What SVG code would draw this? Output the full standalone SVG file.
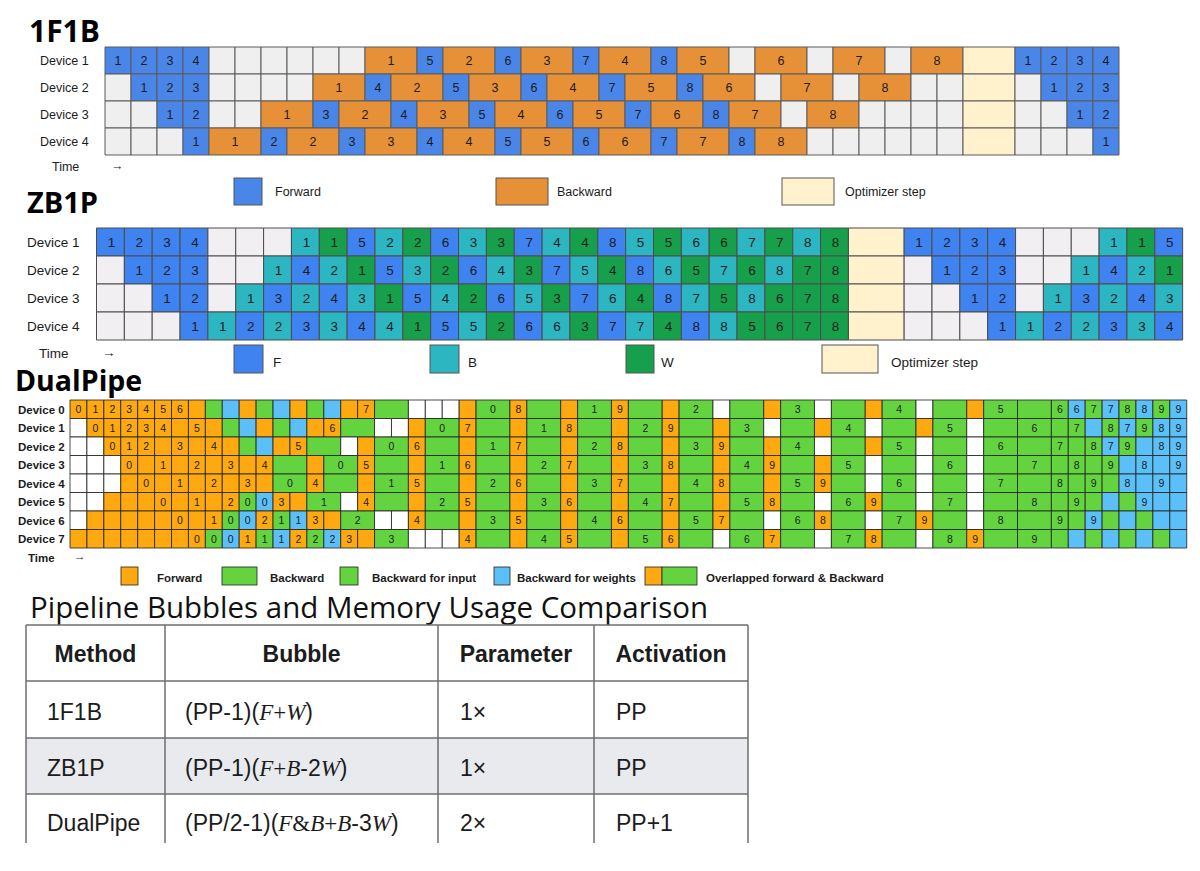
<svg xmlns="http://www.w3.org/2000/svg" width="1200" height="871" viewBox="0 0 1200 871">
<style>
text{font-family:"Liberation Sans",Arial,sans-serif;fill:#1c1c1c}
.s rect{vector-effect:non-scaling-stroke}
.k1 rect{stroke:#5b5b5b;stroke-width:1px}
.k2 rect{stroke:#4c4c4c;stroke-width:1px}
.k3 rect{stroke:#1e1e1e;stroke-width:0.8px}
.fb{fill:#4a86e8}.bo{fill:#e69138}.gy{fill:#efefef}.op{fill:#fff2cc}
.zf{fill:#3f83f1}.zc{fill:#2cb6c2}.zw{fill:#17a04c}.zg{fill:#f2eff2}
.o{fill:#fda90f}.g{fill:#63d43f}.b{fill:#5bc0f7}.w{fill:#ffffff}
.ttl{font-family:"Open Sans","Noto Sans",sans-serif;font-weight:700;fill:#000}
.l1{font-size:12.5px}
.n1{font-size:12.5px;text-anchor:middle}
.l2{font-size:13.5px}
.n2{font-size:13.5px;text-anchor:middle}
.l3{font-size:11.5px;font-weight:700}
.n3{font-size:10.5px;text-anchor:middle}
.tb{font-family:"Open Sans","Noto Sans",sans-serif;font-size:23px;fill:#111}
.tt{font-family:"Open Sans","Noto Sans",sans-serif;font-size:29px;fill:#111}
.th{font-weight:600;text-anchor:middle}
.mi{font-family:"Liberation Serif","Times New Roman",serif;font-style:italic}
.ms{font-family:"Liberation Serif","Times New Roman",serif}
.ln{stroke:#6e6e6e;stroke-width:1.5px;fill:none}
.lg rect{stroke:#555;stroke-width:1px}
.lg3 rect{stroke:#222;stroke-width:0.8px}
</style>
<rect width="1200" height="871" fill="#ffffff"/>

<!-- ===== 1F1B ===== -->
<g id="sec-1f1b">
<text class="ttl" x="29" y="41.5" font-size="30">1F1B</text>
<g id="f1b-labels" class="l1">
<text x="40" y="65">Device 1</text><text x="40" y="92">Device 2</text><text x="40" y="119">Device 3</text><text x="40" y="146">Device 4</text>
</g>
<g id="f1b-grid" class="s k1" transform="translate(105 47) scale(26 27)">
<g id="f1b-r0">
<rect class="fb" x="0" width="1" height="1"/><rect class="fb" x="1" width="1" height="1"/><rect class="fb" x="2" width="1" height="1"/><rect class="fb" x="3" width="1" height="1"/>
<rect class="gy" x="4" width="1" height="1"/><rect class="gy" x="5" width="1" height="1"/><rect class="gy" x="6" width="1" height="1"/><rect class="gy" x="7" width="1" height="1"/><rect class="gy" x="8" width="1" height="1"/><rect class="gy" x="9" width="1" height="1"/>
<rect class="bo" x="10" width="2" height="1"/><rect class="fb" x="12" width="1" height="1"/><rect class="bo" x="13" width="2" height="1"/><rect class="fb" x="15" width="1" height="1"/><rect class="bo" x="16" width="2" height="1"/><rect class="fb" x="18" width="1" height="1"/><rect class="bo" x="19" width="2" height="1"/><rect class="fb" x="21" width="1" height="1"/><rect class="bo" x="22" width="2" height="1"/>
<rect class="gy" x="24" width="1" height="1"/><rect class="bo" x="25" width="2" height="1"/><rect class="gy" x="27" width="1" height="1"/><rect class="bo" x="28" width="2" height="1"/><rect class="gy" x="30" width="1" height="1"/><rect class="bo" x="31" width="2" height="1"/>
<rect class="op" x="33" width="2" height="1"/>
<rect class="fb" x="35" width="1" height="1"/><rect class="fb" x="36" width="1" height="1"/><rect class="fb" x="37" width="1" height="1"/><rect class="fb" x="38" width="1" height="1"/>
</g>
<g id="f1b-r1" transform="translate(0 1)">
<rect class="gy" x="0" width="1" height="1"/><rect class="fb" x="1" width="1" height="1"/><rect class="fb" x="2" width="1" height="1"/><rect class="fb" x="3" width="1" height="1"/>
<rect class="gy" x="4" width="1" height="1"/><rect class="gy" x="5" width="1" height="1"/><rect class="gy" x="6" width="1" height="1"/><rect class="gy" x="7" width="1" height="1"/>
<rect class="bo" x="8" width="2" height="1"/><rect class="fb" x="10" width="1" height="1"/><rect class="bo" x="11" width="2" height="1"/><rect class="fb" x="13" width="1" height="1"/><rect class="bo" x="14" width="2" height="1"/><rect class="fb" x="16" width="1" height="1"/><rect class="bo" x="17" width="2" height="1"/><rect class="fb" x="19" width="1" height="1"/><rect class="bo" x="20" width="2" height="1"/><rect class="fb" x="22" width="1" height="1"/><rect class="bo" x="23" width="2" height="1"/>
<rect class="gy" x="25" width="1" height="1"/><rect class="bo" x="26" width="2" height="1"/><rect class="gy" x="28" width="1" height="1"/><rect class="bo" x="29" width="2" height="1"/><rect class="gy" x="31" width="1" height="1"/><rect class="gy" x="32" width="1" height="1"/>
<rect class="op" x="33" width="2" height="1"/>
<rect class="gy" x="35" width="1" height="1"/><rect class="fb" x="36" width="1" height="1"/><rect class="fb" x="37" width="1" height="1"/><rect class="fb" x="38" width="1" height="1"/>
</g>
<g id="f1b-r2" transform="translate(0 2)">
<rect class="gy" x="0" width="1" height="1"/><rect class="gy" x="1" width="1" height="1"/><rect class="fb" x="2" width="1" height="1"/><rect class="fb" x="3" width="1" height="1"/>
<rect class="gy" x="4" width="1" height="1"/><rect class="gy" x="5" width="1" height="1"/>
<rect class="bo" x="6" width="2" height="1"/><rect class="fb" x="8" width="1" height="1"/><rect class="bo" x="9" width="2" height="1"/><rect class="fb" x="11" width="1" height="1"/><rect class="bo" x="12" width="2" height="1"/><rect class="fb" x="14" width="1" height="1"/><rect class="bo" x="15" width="2" height="1"/><rect class="fb" x="17" width="1" height="1"/><rect class="bo" x="18" width="2" height="1"/><rect class="fb" x="20" width="1" height="1"/><rect class="bo" x="21" width="2" height="1"/><rect class="fb" x="23" width="1" height="1"/><rect class="bo" x="24" width="2" height="1"/>
<rect class="gy" x="26" width="1" height="1"/><rect class="bo" x="27" width="2" height="1"/>
<rect class="gy" x="29" width="1" height="1"/><rect class="gy" x="30" width="1" height="1"/><rect class="gy" x="31" width="1" height="1"/><rect class="gy" x="32" width="1" height="1"/>
<rect class="op" x="33" width="2" height="1"/>
<rect class="gy" x="35" width="1" height="1"/><rect class="gy" x="36" width="1" height="1"/><rect class="fb" x="37" width="1" height="1"/><rect class="fb" x="38" width="1" height="1"/>
</g>
<g id="f1b-r3" transform="translate(0 3)">
<rect class="gy" x="0" width="1" height="1"/><rect class="gy" x="1" width="1" height="1"/><rect class="gy" x="2" width="1" height="1"/><rect class="fb" x="3" width="1" height="1"/>
<rect class="bo" x="4" width="2" height="1"/><rect class="fb" x="6" width="1" height="1"/><rect class="bo" x="7" width="2" height="1"/><rect class="fb" x="9" width="1" height="1"/><rect class="bo" x="10" width="2" height="1"/><rect class="fb" x="12" width="1" height="1"/><rect class="bo" x="13" width="2" height="1"/><rect class="fb" x="15" width="1" height="1"/><rect class="bo" x="16" width="2" height="1"/><rect class="fb" x="18" width="1" height="1"/><rect class="bo" x="19" width="2" height="1"/><rect class="fb" x="21" width="1" height="1"/><rect class="bo" x="22" width="2" height="1"/><rect class="fb" x="24" width="1" height="1"/><rect class="bo" x="25" width="2" height="1"/>
<rect class="gy" x="27" width="1" height="1"/><rect class="gy" x="28" width="1" height="1"/><rect class="gy" x="29" width="1" height="1"/><rect class="gy" x="30" width="1" height="1"/><rect class="gy" x="31" width="1" height="1"/><rect class="gy" x="32" width="1" height="1"/>
<rect class="op" x="33" width="2" height="1"/>
<rect class="gy" x="35" width="1" height="1"/><rect class="gy" x="36" width="1" height="1"/><rect class="gy" x="37" width="1" height="1"/><rect class="fb" x="38" width="1" height="1"/>
</g>
</g>
<g id="f1b-nums" class="n1">
<text x="118" y="65">1</text><text x="144" y="65">2</text><text x="170" y="65">3</text><text x="196" y="65">4</text><text x="391" y="65">1</text><text x="430" y="65">5</text><text x="469" y="65">2</text><text x="508" y="65">6</text><text x="547" y="65">3</text><text x="586" y="65">7</text><text x="625" y="65">4</text><text x="664" y="65">8</text><text x="703" y="65">5</text><text x="781" y="65">6</text><text x="859" y="65">7</text><text x="937" y="65">8</text><text x="1028" y="65">1</text><text x="1054" y="65">2</text><text x="1080" y="65">3</text><text x="1106" y="65">4</text>
<text x="144" y="92">1</text><text x="170" y="92">2</text><text x="196" y="92">3</text><text x="339" y="92">1</text><text x="378" y="92">4</text><text x="417" y="92">2</text><text x="456" y="92">5</text><text x="495" y="92">3</text><text x="534" y="92">6</text><text x="573" y="92">4</text><text x="612" y="92">7</text><text x="651" y="92">5</text><text x="690" y="92">8</text><text x="729" y="92">6</text><text x="807" y="92">7</text><text x="885" y="92">8</text><text x="1054" y="92">1</text><text x="1080" y="92">2</text><text x="1106" y="92">3</text>
<text x="170" y="119">1</text><text x="196" y="119">2</text><text x="287" y="119">1</text><text x="326" y="119">3</text><text x="365" y="119">2</text><text x="404" y="119">4</text><text x="443" y="119">3</text><text x="482" y="119">5</text><text x="521" y="119">4</text><text x="560" y="119">6</text><text x="599" y="119">5</text><text x="638" y="119">7</text><text x="677" y="119">6</text><text x="716" y="119">8</text><text x="755" y="119">7</text><text x="833" y="119">8</text><text x="1080" y="119">1</text><text x="1106" y="119">2</text>
<text x="196" y="146">1</text><text x="235" y="146">1</text><text x="274" y="146">2</text><text x="313" y="146">2</text><text x="352" y="146">3</text><text x="391" y="146">3</text><text x="430" y="146">4</text><text x="469" y="146">4</text><text x="508" y="146">5</text><text x="547" y="146">5</text><text x="586" y="146">6</text><text x="625" y="146">6</text><text x="664" y="146">7</text><text x="703" y="146">7</text><text x="742" y="146">8</text><text x="781" y="146">8</text><text x="1106" y="146">1</text>
</g>
<g id="f1b-legend" class="lg">
<text class="l1" x="52" y="170.5">Time</text>
<text class="l1" x="111" y="170" fill="#555">→</text>
<rect class="fb" x="234" y="178" width="28" height="27"/><text class="l1" x="275" y="196">Forward</text>
<rect class="bo" x="496" y="178" width="52" height="27"/><text class="l1" x="557" y="196">Backward</text>
<rect class="op" x="782" y="178" width="52" height="27"/><text class="l1" x="845" y="196">Optimizer step</text>
</g>
</g>

<!-- ===== ZB1P ===== -->
<g id="sec-zb1p">
<text class="ttl" x="27" y="213" font-size="29">ZB1P</text>
<g id="zb-labels" class="l2">
<text x="27" y="247">Device 1</text><text x="27" y="275">Device 2</text><text x="27" y="303">Device 3</text><text x="27" y="331">Device 4</text>
</g>
<g id="zb-grid" class="s k2" transform="translate(96.5 228) scale(27.85 28)">
<g id="zb-r0">
<rect class="zf" x="0" width="1" height="1"/><rect class="zf" x="1" width="1" height="1"/><rect class="zf" x="2" width="1" height="1"/><rect class="zf" x="3" width="1" height="1"/>
<rect class="zg" x="4" width="1" height="1"/><rect class="zg" x="5" width="1" height="1"/><rect class="zg" x="6" width="1" height="1"/>
<rect class="zc" x="7" width="1" height="1"/><rect class="zw" x="8" width="1" height="1"/><rect class="zf" x="9" width="1" height="1"/><rect class="zc" x="10" width="1" height="1"/><rect class="zw" x="11" width="1" height="1"/><rect class="zf" x="12" width="1" height="1"/><rect class="zc" x="13" width="1" height="1"/><rect class="zw" x="14" width="1" height="1"/><rect class="zf" x="15" width="1" height="1"/><rect class="zc" x="16" width="1" height="1"/><rect class="zw" x="17" width="1" height="1"/><rect class="zf" x="18" width="1" height="1"/><rect class="zc" x="19" width="1" height="1"/><rect class="zw" x="20" width="1" height="1"/><rect class="zc" x="21" width="1" height="1"/><rect class="zw" x="22" width="1" height="1"/><rect class="zc" x="23" width="1" height="1"/><rect class="zw" x="24" width="1" height="1"/><rect class="zc" x="25" width="1" height="1"/><rect class="zw" x="26" width="1" height="1"/>
<rect class="op" x="27" width="2" height="1"/>
<rect class="zf" x="29" width="1" height="1"/><rect class="zf" x="30" width="1" height="1"/><rect class="zf" x="31" width="1" height="1"/><rect class="zf" x="32" width="1" height="1"/>
<rect class="zg" x="33" width="1" height="1"/><rect class="zg" x="34" width="1" height="1"/><rect class="zg" x="35" width="1" height="1"/>
<rect class="zc" x="36" width="1" height="1"/><rect class="zw" x="37" width="1" height="1"/><rect class="zf" x="38" width="1" height="1"/>
</g>
<g id="zb-r1" transform="translate(0 1)">
<rect class="zg" x="0" width="1" height="1"/><rect class="zf" x="1" width="1" height="1"/><rect class="zf" x="2" width="1" height="1"/><rect class="zf" x="3" width="1" height="1"/>
<rect class="zg" x="4" width="1" height="1"/><rect class="zg" x="5" width="1" height="1"/>
<rect class="zc" x="6" width="1" height="1"/><rect class="zf" x="7" width="1" height="1"/><rect class="zc" x="8" width="1" height="1"/><rect class="zw" x="9" width="1" height="1"/><rect class="zf" x="10" width="1" height="1"/><rect class="zc" x="11" width="1" height="1"/><rect class="zw" x="12" width="1" height="1"/><rect class="zf" x="13" width="1" height="1"/><rect class="zc" x="14" width="1" height="1"/><rect class="zw" x="15" width="1" height="1"/><rect class="zf" x="16" width="1" height="1"/><rect class="zc" x="17" width="1" height="1"/><rect class="zw" x="18" width="1" height="1"/><rect class="zf" x="19" width="1" height="1"/><rect class="zc" x="20" width="1" height="1"/><rect class="zw" x="21" width="1" height="1"/><rect class="zc" x="22" width="1" height="1"/><rect class="zw" x="23" width="1" height="1"/><rect class="zc" x="24" width="1" height="1"/><rect class="zw" x="25" width="1" height="1"/><rect class="zw" x="26" width="1" height="1"/>
<rect class="op" x="27" width="2" height="1"/>
<rect class="zg" x="29" width="1" height="1"/><rect class="zf" x="30" width="1" height="1"/><rect class="zf" x="31" width="1" height="1"/><rect class="zf" x="32" width="1" height="1"/>
<rect class="zg" x="33" width="1" height="1"/><rect class="zg" x="34" width="1" height="1"/>
<rect class="zc" x="35" width="1" height="1"/><rect class="zf" x="36" width="1" height="1"/><rect class="zc" x="37" width="1" height="1"/><rect class="zw" x="38" width="1" height="1"/>
</g>
<g id="zb-r2" transform="translate(0 2)">
<rect class="zg" x="0" width="1" height="1"/><rect class="zg" x="1" width="1" height="1"/><rect class="zf" x="2" width="1" height="1"/><rect class="zf" x="3" width="1" height="1"/>
<rect class="zg" x="4" width="1" height="1"/>
<rect class="zc" x="5" width="1" height="1"/><rect class="zf" x="6" width="1" height="1"/><rect class="zc" x="7" width="1" height="1"/><rect class="zf" x="8" width="1" height="1"/><rect class="zc" x="9" width="1" height="1"/><rect class="zw" x="10" width="1" height="1"/><rect class="zf" x="11" width="1" height="1"/><rect class="zc" x="12" width="1" height="1"/><rect class="zw" x="13" width="1" height="1"/><rect class="zf" x="14" width="1" height="1"/><rect class="zc" x="15" width="1" height="1"/><rect class="zw" x="16" width="1" height="1"/><rect class="zf" x="17" width="1" height="1"/><rect class="zc" x="18" width="1" height="1"/><rect class="zw" x="19" width="1" height="1"/><rect class="zf" x="20" width="1" height="1"/><rect class="zc" x="21" width="1" height="1"/><rect class="zw" x="22" width="1" height="1"/><rect class="zc" x="23" width="1" height="1"/><rect class="zw" x="24" width="1" height="1"/><rect class="zw" x="25" width="1" height="1"/><rect class="zw" x="26" width="1" height="1"/>
<rect class="op" x="27" width="2" height="1"/>
<rect class="zg" x="29" width="1" height="1"/><rect class="zg" x="30" width="1" height="1"/><rect class="zf" x="31" width="1" height="1"/><rect class="zf" x="32" width="1" height="1"/>
<rect class="zg" x="33" width="1" height="1"/>
<rect class="zc" x="34" width="1" height="1"/><rect class="zf" x="35" width="1" height="1"/><rect class="zc" x="36" width="1" height="1"/><rect class="zf" x="37" width="1" height="1"/><rect class="zc" x="38" width="1" height="1"/>
</g>
<g id="zb-r3" transform="translate(0 3)">
<rect class="zg" x="0" width="1" height="1"/><rect class="zg" x="1" width="1" height="1"/><rect class="zg" x="2" width="1" height="1"/>
<rect class="zf" x="3" width="1" height="1"/><rect class="zc" x="4" width="1" height="1"/><rect class="zf" x="5" width="1" height="1"/><rect class="zc" x="6" width="1" height="1"/><rect class="zf" x="7" width="1" height="1"/><rect class="zc" x="8" width="1" height="1"/><rect class="zf" x="9" width="1" height="1"/><rect class="zc" x="10" width="1" height="1"/><rect class="zw" x="11" width="1" height="1"/><rect class="zf" x="12" width="1" height="1"/><rect class="zc" x="13" width="1" height="1"/><rect class="zw" x="14" width="1" height="1"/><rect class="zf" x="15" width="1" height="1"/><rect class="zc" x="16" width="1" height="1"/><rect class="zw" x="17" width="1" height="1"/><rect class="zf" x="18" width="1" height="1"/><rect class="zc" x="19" width="1" height="1"/><rect class="zw" x="20" width="1" height="1"/><rect class="zf" x="21" width="1" height="1"/><rect class="zc" x="22" width="1" height="1"/><rect class="zw" x="23" width="1" height="1"/><rect class="zw" x="24" width="1" height="1"/><rect class="zw" x="25" width="1" height="1"/><rect class="zw" x="26" width="1" height="1"/>
<rect class="op" x="27" width="2" height="1"/>
<rect class="zg" x="29" width="1" height="1"/><rect class="zg" x="30" width="1" height="1"/><rect class="zg" x="31" width="1" height="1"/>
<rect class="zf" x="32" width="1" height="1"/><rect class="zc" x="33" width="1" height="1"/><rect class="zf" x="34" width="1" height="1"/><rect class="zc" x="35" width="1" height="1"/><rect class="zf" x="36" width="1" height="1"/><rect class="zc" x="37" width="1" height="1"/><rect class="zf" x="38" width="1" height="1"/>
</g>
</g>
<g id="zb-nums" class="n2">
<text x="111.5" y="247">1</text><text x="139.3" y="247">2</text><text x="167.1" y="247">3</text><text x="195" y="247">4</text><text x="306.4" y="247">1</text><text x="334.2" y="247">1</text><text x="362.1" y="247">5</text><text x="389.9" y="247">2</text><text x="417.8" y="247">2</text><text x="445.6" y="247">6</text><text x="473.5" y="247">3</text><text x="501.3" y="247">3</text><text x="529.2" y="247">7</text><text x="557" y="247">4</text><text x="584.9" y="247">4</text><text x="612.7" y="247">8</text><text x="640.6" y="247">5</text><text x="668.4" y="247">5</text><text x="696.3" y="247">6</text><text x="724.1" y="247">6</text><text x="752" y="247">7</text><text x="779.8" y="247">7</text><text x="807.7" y="247">8</text><text x="835.5" y="247">8</text><text x="919.1" y="247">1</text><text x="946.9" y="247">2</text><text x="974.8" y="247">3</text><text x="1002.6" y="247">4</text><text x="1114" y="247">1</text><text x="1141.9" y="247">1</text><text x="1169.7" y="247">5</text>
<text x="139.3" y="275">1</text><text x="167.1" y="275">2</text><text x="195" y="275">3</text><text x="278.5" y="275">1</text><text x="306.4" y="275">4</text><text x="334.2" y="275">2</text><text x="362.1" y="275">1</text><text x="389.9" y="275">5</text><text x="417.8" y="275">3</text><text x="445.6" y="275">2</text><text x="473.5" y="275">6</text><text x="501.3" y="275">4</text><text x="529.2" y="275">3</text><text x="557" y="275">7</text><text x="584.9" y="275">5</text><text x="612.7" y="275">4</text><text x="640.6" y="275">8</text><text x="668.4" y="275">6</text><text x="696.3" y="275">5</text><text x="724.1" y="275">7</text><text x="752" y="275">6</text><text x="779.8" y="275">8</text><text x="807.7" y="275">7</text><text x="835.5" y="275">8</text><text x="946.9" y="275">1</text><text x="974.8" y="275">2</text><text x="1002.6" y="275">3</text><text x="1086.2" y="275">1</text><text x="1114" y="275">4</text><text x="1141.9" y="275">2</text><text x="1169.7" y="275">1</text>
<text x="167.1" y="303">1</text><text x="195" y="303">2</text><text x="250.7" y="303">1</text><text x="278.5" y="303">3</text><text x="306.4" y="303">2</text><text x="334.2" y="303">4</text><text x="362.1" y="303">3</text><text x="389.9" y="303">1</text><text x="417.8" y="303">5</text><text x="445.6" y="303">4</text><text x="473.5" y="303">2</text><text x="501.3" y="303">6</text><text x="529.2" y="303">5</text><text x="557" y="303">3</text><text x="584.9" y="303">7</text><text x="612.7" y="303">6</text><text x="640.6" y="303">4</text><text x="668.4" y="303">8</text><text x="696.3" y="303">7</text><text x="724.1" y="303">5</text><text x="752" y="303">8</text><text x="779.8" y="303">6</text><text x="807.7" y="303">7</text><text x="835.5" y="303">8</text><text x="974.8" y="303">1</text><text x="1002.6" y="303">2</text><text x="1058.3" y="303">1</text><text x="1086.2" y="303">3</text><text x="1114" y="303">2</text><text x="1141.9" y="303">4</text><text x="1169.7" y="303">3</text>
<text x="195" y="331">1</text><text x="222.8" y="331">1</text><text x="250.7" y="331">2</text><text x="278.5" y="331">2</text><text x="306.4" y="331">3</text><text x="334.2" y="331">3</text><text x="362.1" y="331">4</text><text x="389.9" y="331">4</text><text x="417.8" y="331">1</text><text x="445.6" y="331">5</text><text x="473.5" y="331">5</text><text x="501.3" y="331">2</text><text x="529.2" y="331">6</text><text x="557" y="331">6</text><text x="584.9" y="331">3</text><text x="612.7" y="331">7</text><text x="640.6" y="331">7</text><text x="668.4" y="331">4</text><text x="696.3" y="331">8</text><text x="724.1" y="331">8</text><text x="752" y="331">5</text><text x="779.8" y="331">6</text><text x="807.7" y="331">7</text><text x="835.5" y="331">8</text><text x="1002.6" y="331">1</text><text x="1030.5" y="331">1</text><text x="1058.3" y="331">2</text><text x="1086.2" y="331">2</text><text x="1114" y="331">3</text><text x="1141.9" y="331">3</text><text x="1169.7" y="331">4</text>
</g>
<g id="zb-legend" class="lg">
<text class="l2" x="39" y="357.5">Time</text>
<text class="l2" x="102" y="357" fill="#555">→</text>
<rect class="zf" x="234" y="345" width="29" height="28"/><text class="l2" x="273" y="367">F</text>
<rect class="zc" x="430" y="345" width="29" height="28"/><text class="l2" x="468" y="367">B</text>
<rect class="zw" x="626" y="345" width="28" height="28"/><text class="l2" x="661" y="367">W</text>
<rect class="op" x="822" y="345" width="56" height="28"/><text class="l2" x="891" y="367">Optimizer step</text>
</g>
</g>

<!-- ===== DualPipe ===== -->
<g id="sec-dualpipe">
<text class="ttl" x="15" y="391" font-size="28.5">DualPipe</text>
<g id="dp-labels" class="l3">
<text x="18" y="413.5">Device 0</text><text x="18" y="432">Device 1</text><text x="18" y="450.5">Device 2</text><text x="18" y="469">Device 3</text><text x="18" y="487.5">Device 4</text><text x="18" y="506">Device 5</text><text x="18" y="524.5">Device 6</text><text x="18" y="543">Device 7</text>
</g>
<g id="dp-grid" class="s k3" transform="translate(70 400) scale(16.92 18.5)">
<g id="dp-r0">
<rect class="o" x="0" width="1" height="1"/><rect class="o" x="1" width="1" height="1"/><rect class="o" x="2" width="1" height="1"/><rect class="o" x="3" width="1" height="1"/><rect class="o" x="4" width="1" height="1"/><rect class="o" x="5" width="1" height="1"/><rect class="o" x="6" width="1" height="1"/><rect class="o" x="7" width="1" height="1"/>
<rect class="g" x="8" width="1" height="1"/><rect class="b" x="9" width="1" height="1"/><rect class="o" x="10" width="1" height="1"/><rect class="g" x="11" width="1" height="1"/><rect class="b" x="12" width="1" height="1"/><rect class="o" x="13" width="1" height="1"/><rect class="g" x="14" width="1" height="1"/><rect class="b" x="15" width="1" height="1"/><rect class="o" x="16" width="1" height="1"/><rect class="o" x="17" width="1" height="1"/>
<rect class="g" x="18" width="2" height="1"/><rect class="w" x="20" width="1" height="1"/><rect class="w" x="21" width="1" height="1"/><rect class="w" x="22" width="1" height="1"/>
<rect class="o" x="23" width="1" height="1"/><rect class="g" x="24" width="2" height="1"/><rect class="o" x="26" width="1" height="1"/><rect class="g" x="27" width="2" height="1"/><rect class="o" x="29" width="1" height="1"/><rect class="g" x="30" width="2" height="1"/><rect class="o" x="32" width="1" height="1"/><rect class="g" x="33" width="2" height="1"/><rect class="o" x="35" width="1" height="1"/><rect class="g" x="36" width="2" height="1"/>
<rect class="w" x="38" width="1" height="1"/><rect class="g" x="39" width="2" height="1"/><rect class="o" x="41" width="1" height="1"/><rect class="g" x="42" width="2" height="1"/><rect class="w" x="44" width="1" height="1"/><rect class="g" x="45" width="2" height="1"/><rect class="o" x="47" width="1" height="1"/><rect class="g" x="48" width="2" height="1"/><rect class="w" x="50" width="1" height="1"/><rect class="g" x="51" width="2" height="1"/><rect class="o" x="53" width="1" height="1"/><rect class="g" x="54" width="2" height="1"/><rect class="g" x="56" width="2" height="1"/>
<rect class="g" x="58" width="1" height="1"/><rect class="b" x="59" width="1" height="1"/><rect class="g" x="60" width="1" height="1"/><rect class="b" x="61" width="1" height="1"/><rect class="g" x="62" width="1" height="1"/><rect class="b" x="63" width="1" height="1"/><rect class="g" x="64" width="1" height="1"/><rect class="b" x="65" width="1" height="1"/>
</g>
<g id="dp-r1" transform="translate(0 1)">
<rect class="w" x="0" width="1" height="1"/><rect class="o" x="1" width="1" height="1"/><rect class="o" x="2" width="1" height="1"/><rect class="o" x="3" width="1" height="1"/><rect class="o" x="4" width="1" height="1"/><rect class="o" x="5" width="1" height="1"/><rect class="o" x="6" width="1" height="1"/><rect class="o" x="7" width="1" height="1"/><rect class="o" x="8" width="1" height="1"/>
<rect class="g" x="9" width="1" height="1"/><rect class="b" x="10" width="1" height="1"/><rect class="o" x="11" width="1" height="1"/><rect class="g" x="12" width="1" height="1"/><rect class="b" x="13" width="1" height="1"/><rect class="o" x="14" width="1" height="1"/><rect class="o" x="15" width="1" height="1"/>
<rect class="g" x="16" width="2" height="1"/><rect class="w" x="18" width="1" height="1"/><rect class="w" x="19" width="1" height="1"/>
<rect class="o" x="20" width="1" height="1"/><rect class="g" x="21" width="2" height="1"/><rect class="o" x="23" width="1" height="1"/><rect class="g" x="24" width="2" height="1"/><rect class="o" x="26" width="1" height="1"/><rect class="g" x="27" width="2" height="1"/><rect class="o" x="29" width="1" height="1"/><rect class="g" x="30" width="2" height="1"/><rect class="o" x="32" width="1" height="1"/><rect class="g" x="33" width="2" height="1"/><rect class="o" x="35" width="1" height="1"/><rect class="g" x="36" width="2" height="1"/><rect class="o" x="38" width="1" height="1"/><rect class="g" x="39" width="2" height="1"/>
<rect class="w" x="41" width="1" height="1"/><rect class="g" x="42" width="2" height="1"/><rect class="o" x="44" width="1" height="1"/><rect class="g" x="45" width="2" height="1"/><rect class="w" x="47" width="1" height="1"/><rect class="g" x="48" width="2" height="1"/><rect class="o" x="50" width="1" height="1"/><rect class="g" x="51" width="2" height="1"/><rect class="w" x="53" width="1" height="1"/><rect class="g" x="54" width="2" height="1"/><rect class="g" x="56" width="2" height="1"/>
<rect class="g" x="58" width="1" height="1"/><rect class="g" x="59" width="1" height="1"/><rect class="b" x="60" width="1" height="1"/><rect class="g" x="61" width="1" height="1"/><rect class="b" x="62" width="1" height="1"/><rect class="g" x="63" width="1" height="1"/><rect class="b" x="64" width="1" height="1"/><rect class="b" x="65" width="1" height="1"/>
</g>
<g id="dp-r2" transform="translate(0 2)">
<rect class="w" x="0" width="1" height="1"/><rect class="w" x="1" width="1" height="1"/><rect class="o" x="2" width="1" height="1"/><rect class="o" x="3" width="1" height="1"/><rect class="o" x="4" width="1" height="1"/><rect class="o" x="5" width="1" height="1"/><rect class="o" x="6" width="1" height="1"/><rect class="o" x="7" width="1" height="1"/><rect class="o" x="8" width="1" height="1"/><rect class="o" x="9" width="1" height="1"/>
<rect class="g" x="10" width="1" height="1"/><rect class="b" x="11" width="1" height="1"/><rect class="o" x="12" width="1" height="1"/><rect class="o" x="13" width="1" height="1"/><rect class="g" x="14" width="2" height="1"/><rect class="w" x="16" width="1" height="1"/><rect class="o" x="17" width="1" height="1"/>
<rect class="g" x="18" width="2" height="1"/><rect class="o" x="20" width="1" height="1"/><rect class="g" x="21" width="2" height="1"/><rect class="o" x="23" width="1" height="1"/><rect class="g" x="24" width="2" height="1"/><rect class="o" x="26" width="1" height="1"/><rect class="g" x="27" width="2" height="1"/><rect class="o" x="29" width="1" height="1"/><rect class="g" x="30" width="2" height="1"/><rect class="o" x="32" width="1" height="1"/><rect class="g" x="33" width="2" height="1"/><rect class="o" x="35" width="1" height="1"/><rect class="g" x="36" width="2" height="1"/><rect class="o" x="38" width="1" height="1"/><rect class="g" x="39" width="2" height="1"/><rect class="o" x="41" width="1" height="1"/><rect class="g" x="42" width="2" height="1"/>
<rect class="w" x="44" width="1" height="1"/><rect class="g" x="45" width="2" height="1"/><rect class="o" x="47" width="1" height="1"/><rect class="g" x="48" width="2" height="1"/><rect class="w" x="50" width="1" height="1"/><rect class="g" x="51" width="2" height="1"/><rect class="w" x="53" width="1" height="1"/><rect class="g" x="54" width="2" height="1"/><rect class="g" x="56" width="2" height="1"/>
<rect class="g" x="58" width="1" height="1"/><rect class="g" x="59" width="1" height="1"/><rect class="g" x="60" width="1" height="1"/><rect class="b" x="61" width="1" height="1"/><rect class="g" x="62" width="1" height="1"/><rect class="b" x="63" width="1" height="1"/><rect class="b" x="64" width="1" height="1"/><rect class="b" x="65" width="1" height="1"/>
</g>
<g id="dp-r3" transform="translate(0 3)">
<rect class="w" x="0" width="1" height="1"/><rect class="w" x="1" width="1" height="1"/><rect class="w" x="2" width="1" height="1"/><rect class="o" x="3" width="1" height="1"/><rect class="o" x="4" width="1" height="1"/><rect class="o" x="5" width="1" height="1"/><rect class="o" x="6" width="1" height="1"/><rect class="o" x="7" width="1" height="1"/><rect class="o" x="8" width="1" height="1"/><rect class="o" x="9" width="1" height="1"/><rect class="o" x="10" width="1" height="1"/><rect class="o" x="11" width="1" height="1"/>
<rect class="g" x="12" width="2" height="1"/><rect class="o" x="14" width="1" height="1"/><rect class="g" x="15" width="2" height="1"/><rect class="o" x="17" width="1" height="1"/><rect class="g" x="18" width="2" height="1"/><rect class="o" x="20" width="1" height="1"/><rect class="g" x="21" width="2" height="1"/><rect class="o" x="23" width="1" height="1"/><rect class="g" x="24" width="2" height="1"/><rect class="o" x="26" width="1" height="1"/><rect class="g" x="27" width="2" height="1"/><rect class="o" x="29" width="1" height="1"/><rect class="g" x="30" width="2" height="1"/><rect class="o" x="32" width="1" height="1"/><rect class="g" x="33" width="2" height="1"/><rect class="o" x="35" width="1" height="1"/><rect class="g" x="36" width="2" height="1"/><rect class="o" x="38" width="1" height="1"/><rect class="g" x="39" width="2" height="1"/><rect class="o" x="41" width="1" height="1"/><rect class="g" x="42" width="2" height="1"/><rect class="o" x="44" width="1" height="1"/><rect class="g" x="45" width="2" height="1"/>
<rect class="w" x="47" width="1" height="1"/><rect class="g" x="48" width="2" height="1"/><rect class="w" x="50" width="1" height="1"/><rect class="g" x="51" width="2" height="1"/><rect class="w" x="53" width="1" height="1"/><rect class="g" x="54" width="2" height="1"/><rect class="g" x="56" width="2" height="1"/>
<rect class="g" x="58" width="1" height="1"/><rect class="g" x="59" width="1" height="1"/><rect class="g" x="60" width="1" height="1"/><rect class="g" x="61" width="1" height="1"/><rect class="b" x="62" width="1" height="1"/><rect class="b" x="63" width="1" height="1"/><rect class="b" x="64" width="1" height="1"/><rect class="b" x="65" width="1" height="1"/>
</g>
<g id="dp-r4" transform="translate(0 4)">
<rect class="w" x="0" width="1" height="1"/><rect class="w" x="1" width="1" height="1"/><rect class="w" x="2" width="1" height="1"/><rect class="o" x="3" width="1" height="1"/><rect class="o" x="4" width="1" height="1"/><rect class="o" x="5" width="1" height="1"/><rect class="o" x="6" width="1" height="1"/><rect class="o" x="7" width="1" height="1"/><rect class="o" x="8" width="1" height="1"/><rect class="o" x="9" width="1" height="1"/><rect class="o" x="10" width="1" height="1"/><rect class="o" x="11" width="1" height="1"/>
<rect class="g" x="12" width="2" height="1"/><rect class="o" x="14" width="1" height="1"/><rect class="g" x="15" width="2" height="1"/><rect class="o" x="17" width="1" height="1"/><rect class="g" x="18" width="2" height="1"/><rect class="o" x="20" width="1" height="1"/><rect class="g" x="21" width="2" height="1"/><rect class="o" x="23" width="1" height="1"/><rect class="g" x="24" width="2" height="1"/><rect class="o" x="26" width="1" height="1"/><rect class="g" x="27" width="2" height="1"/><rect class="o" x="29" width="1" height="1"/><rect class="g" x="30" width="2" height="1"/><rect class="o" x="32" width="1" height="1"/><rect class="g" x="33" width="2" height="1"/><rect class="o" x="35" width="1" height="1"/><rect class="g" x="36" width="2" height="1"/><rect class="o" x="38" width="1" height="1"/><rect class="g" x="39" width="2" height="1"/><rect class="o" x="41" width="1" height="1"/><rect class="g" x="42" width="2" height="1"/><rect class="o" x="44" width="1" height="1"/><rect class="g" x="45" width="2" height="1"/>
<rect class="w" x="47" width="1" height="1"/><rect class="g" x="48" width="2" height="1"/><rect class="w" x="50" width="1" height="1"/><rect class="g" x="51" width="2" height="1"/><rect class="w" x="53" width="1" height="1"/><rect class="g" x="54" width="2" height="1"/><rect class="g" x="56" width="2" height="1"/>
<rect class="g" x="58" width="1" height="1"/><rect class="g" x="59" width="1" height="1"/><rect class="g" x="60" width="1" height="1"/><rect class="g" x="61" width="1" height="1"/><rect class="b" x="62" width="1" height="1"/><rect class="b" x="63" width="1" height="1"/><rect class="b" x="64" width="1" height="1"/><rect class="b" x="65" width="1" height="1"/>
</g>
<g id="dp-r5" transform="translate(0 5)">
<rect class="w" x="0" width="1" height="1"/><rect class="w" x="1" width="1" height="1"/><rect class="o" x="2" width="1" height="1"/><rect class="o" x="3" width="1" height="1"/><rect class="o" x="4" width="1" height="1"/><rect class="o" x="5" width="1" height="1"/><rect class="o" x="6" width="1" height="1"/><rect class="o" x="7" width="1" height="1"/><rect class="o" x="8" width="1" height="1"/><rect class="o" x="9" width="1" height="1"/>
<rect class="g" x="10" width="1" height="1"/><rect class="b" x="11" width="1" height="1"/><rect class="o" x="12" width="1" height="1"/><rect class="o" x="13" width="1" height="1"/><rect class="g" x="14" width="2" height="1"/><rect class="w" x="16" width="1" height="1"/><rect class="o" x="17" width="1" height="1"/>
<rect class="g" x="18" width="2" height="1"/><rect class="o" x="20" width="1" height="1"/><rect class="g" x="21" width="2" height="1"/><rect class="o" x="23" width="1" height="1"/><rect class="g" x="24" width="2" height="1"/><rect class="o" x="26" width="1" height="1"/><rect class="g" x="27" width="2" height="1"/><rect class="o" x="29" width="1" height="1"/><rect class="g" x="30" width="2" height="1"/><rect class="o" x="32" width="1" height="1"/><rect class="g" x="33" width="2" height="1"/><rect class="o" x="35" width="1" height="1"/><rect class="g" x="36" width="2" height="1"/><rect class="o" x="38" width="1" height="1"/><rect class="g" x="39" width="2" height="1"/><rect class="o" x="41" width="1" height="1"/><rect class="g" x="42" width="2" height="1"/>
<rect class="w" x="44" width="1" height="1"/><rect class="g" x="45" width="2" height="1"/><rect class="o" x="47" width="1" height="1"/><rect class="g" x="48" width="2" height="1"/><rect class="w" x="50" width="1" height="1"/><rect class="g" x="51" width="2" height="1"/><rect class="w" x="53" width="1" height="1"/><rect class="g" x="54" width="2" height="1"/><rect class="g" x="56" width="2" height="1"/>
<rect class="g" x="58" width="1" height="1"/><rect class="g" x="59" width="1" height="1"/><rect class="g" x="60" width="1" height="1"/><rect class="b" x="61" width="1" height="1"/><rect class="g" x="62" width="1" height="1"/><rect class="b" x="63" width="1" height="1"/><rect class="b" x="64" width="1" height="1"/><rect class="b" x="65" width="1" height="1"/>
</g>
<g id="dp-r6" transform="translate(0 6)">
<rect class="w" x="0" width="1" height="1"/><rect class="o" x="1" width="1" height="1"/><rect class="o" x="2" width="1" height="1"/><rect class="o" x="3" width="1" height="1"/><rect class="o" x="4" width="1" height="1"/><rect class="o" x="5" width="1" height="1"/><rect class="o" x="6" width="1" height="1"/><rect class="o" x="7" width="1" height="1"/><rect class="o" x="8" width="1" height="1"/>
<rect class="g" x="9" width="1" height="1"/><rect class="b" x="10" width="1" height="1"/><rect class="o" x="11" width="1" height="1"/><rect class="g" x="12" width="1" height="1"/><rect class="b" x="13" width="1" height="1"/><rect class="o" x="14" width="1" height="1"/><rect class="o" x="15" width="1" height="1"/>
<rect class="g" x="16" width="2" height="1"/><rect class="w" x="18" width="1" height="1"/><rect class="w" x="19" width="1" height="1"/>
<rect class="o" x="20" width="1" height="1"/><rect class="g" x="21" width="2" height="1"/><rect class="o" x="23" width="1" height="1"/><rect class="g" x="24" width="2" height="1"/><rect class="o" x="26" width="1" height="1"/><rect class="g" x="27" width="2" height="1"/><rect class="o" x="29" width="1" height="1"/><rect class="g" x="30" width="2" height="1"/><rect class="o" x="32" width="1" height="1"/><rect class="g" x="33" width="2" height="1"/><rect class="o" x="35" width="1" height="1"/><rect class="g" x="36" width="2" height="1"/><rect class="o" x="38" width="1" height="1"/><rect class="g" x="39" width="2" height="1"/>
<rect class="w" x="41" width="1" height="1"/><rect class="g" x="42" width="2" height="1"/><rect class="o" x="44" width="1" height="1"/><rect class="g" x="45" width="2" height="1"/><rect class="w" x="47" width="1" height="1"/><rect class="g" x="48" width="2" height="1"/><rect class="o" x="50" width="1" height="1"/><rect class="g" x="51" width="2" height="1"/><rect class="w" x="53" width="1" height="1"/><rect class="g" x="54" width="2" height="1"/><rect class="g" x="56" width="2" height="1"/>
<rect class="g" x="58" width="1" height="1"/><rect class="g" x="59" width="1" height="1"/><rect class="b" x="60" width="1" height="1"/><rect class="g" x="61" width="1" height="1"/><rect class="b" x="62" width="1" height="1"/><rect class="g" x="63" width="1" height="1"/><rect class="b" x="64" width="1" height="1"/><rect class="b" x="65" width="1" height="1"/>
</g>
<g id="dp-r7" transform="translate(0 7)">
<rect class="o" x="0" width="1" height="1"/><rect class="o" x="1" width="1" height="1"/><rect class="o" x="2" width="1" height="1"/><rect class="o" x="3" width="1" height="1"/><rect class="o" x="4" width="1" height="1"/><rect class="o" x="5" width="1" height="1"/><rect class="o" x="6" width="1" height="1"/><rect class="o" x="7" width="1" height="1"/>
<rect class="g" x="8" width="1" height="1"/><rect class="b" x="9" width="1" height="1"/><rect class="o" x="10" width="1" height="1"/><rect class="g" x="11" width="1" height="1"/><rect class="b" x="12" width="1" height="1"/><rect class="o" x="13" width="1" height="1"/><rect class="g" x="14" width="1" height="1"/><rect class="b" x="15" width="1" height="1"/><rect class="o" x="16" width="1" height="1"/><rect class="o" x="17" width="1" height="1"/>
<rect class="g" x="18" width="2" height="1"/><rect class="w" x="20" width="1" height="1"/><rect class="w" x="21" width="1" height="1"/><rect class="w" x="22" width="1" height="1"/>
<rect class="o" x="23" width="1" height="1"/><rect class="g" x="24" width="2" height="1"/><rect class="o" x="26" width="1" height="1"/><rect class="g" x="27" width="2" height="1"/><rect class="o" x="29" width="1" height="1"/><rect class="g" x="30" width="2" height="1"/><rect class="o" x="32" width="1" height="1"/><rect class="g" x="33" width="2" height="1"/><rect class="o" x="35" width="1" height="1"/><rect class="g" x="36" width="2" height="1"/>
<rect class="w" x="38" width="1" height="1"/><rect class="g" x="39" width="2" height="1"/><rect class="o" x="41" width="1" height="1"/><rect class="g" x="42" width="2" height="1"/><rect class="w" x="44" width="1" height="1"/><rect class="g" x="45" width="2" height="1"/><rect class="o" x="47" width="1" height="1"/><rect class="g" x="48" width="2" height="1"/><rect class="w" x="50" width="1" height="1"/><rect class="g" x="51" width="2" height="1"/><rect class="o" x="53" width="1" height="1"/><rect class="g" x="54" width="2" height="1"/><rect class="g" x="56" width="2" height="1"/>
<rect class="g" x="58" width="1" height="1"/><rect class="b" x="59" width="1" height="1"/><rect class="g" x="60" width="1" height="1"/><rect class="b" x="61" width="1" height="1"/><rect class="g" x="62" width="1" height="1"/><rect class="b" x="63" width="1" height="1"/><rect class="g" x="64" width="1" height="1"/><rect class="b" x="65" width="1" height="1"/>
</g>
</g>
<g id="dp-nums" class="n3">
<text x="78.5" y="413">0</text><text x="95.4" y="413">1</text><text x="112.3" y="413">2</text><text x="129.2" y="413">3</text><text x="146.1" y="413">4</text><text x="163.1" y="413">5</text><text x="180" y="413">6</text><text x="366.1" y="413">7</text><text x="493" y="413">0</text><text x="518.4" y="413">8</text><text x="594.5" y="413">1</text><text x="619.9" y="413">9</text><text x="696" y="413">2</text><text x="797.6" y="413">3</text><text x="899.1" y="413">4</text><text x="1000.6" y="413">5</text><text x="1059.8" y="413">6</text><text x="1076.7" y="413">6</text><text x="1093.7" y="413">7</text><text x="1110.6" y="413">7</text><text x="1127.5" y="413">8</text><text x="1144.4" y="413">8</text><text x="1161.3" y="413">9</text><text x="1178.3" y="413">9</text>
<text x="95.4" y="431.5">0</text><text x="112.3" y="431.5">1</text><text x="129.2" y="431.5">2</text><text x="146.1" y="431.5">3</text><text x="163.1" y="431.5">4</text><text x="196.9" y="431.5">5</text><text x="332.3" y="431.5">6</text><text x="442.2" y="431.5">0</text><text x="467.6" y="431.5">7</text><text x="543.8" y="431.5">1</text><text x="569.1" y="431.5">8</text><text x="645.3" y="431.5">2</text><text x="670.7" y="431.5">9</text><text x="746.8" y="431.5">3</text><text x="848.3" y="431.5">4</text><text x="949.8" y="431.5">5</text><text x="1034.4" y="431.5">6</text><text x="1076.7" y="431.5">7</text><text x="1110.6" y="431.5">8</text><text x="1127.5" y="431.5">7</text><text x="1144.4" y="431.5">9</text><text x="1161.3" y="431.5">8</text><text x="1178.3" y="431.5">9</text>
<text x="112.3" y="450">0</text><text x="129.2" y="450">1</text><text x="146.1" y="450">2</text><text x="180" y="450">3</text><text x="213.8" y="450">4</text><text x="298.4" y="450">5</text><text x="391.5" y="450">0</text><text x="416.9" y="450">6</text><text x="493" y="450">1</text><text x="518.4" y="450">7</text><text x="594.5" y="450">2</text><text x="619.9" y="450">8</text><text x="696" y="450">3</text><text x="721.4" y="450">9</text><text x="797.6" y="450">4</text><text x="899.1" y="450">5</text><text x="1000.6" y="450">6</text><text x="1059.8" y="450">7</text><text x="1093.7" y="450">8</text><text x="1110.6" y="450">7</text><text x="1127.5" y="450">9</text><text x="1161.3" y="450">8</text><text x="1178.3" y="450">9</text>
<text x="129.2" y="468.5">0</text><text x="163.1" y="468.5">1</text><text x="196.9" y="468.5">2</text><text x="230.7" y="468.5">3</text><text x="264.6" y="468.5">4</text><text x="340.7" y="468.5">0</text><text x="366.1" y="468.5">5</text><text x="442.2" y="468.5">1</text><text x="467.6" y="468.5">6</text><text x="543.8" y="468.5">2</text><text x="569.1" y="468.5">7</text><text x="645.3" y="468.5">3</text><text x="670.7" y="468.5">8</text><text x="746.8" y="468.5">4</text><text x="772.2" y="468.5">9</text><text x="848.3" y="468.5">5</text><text x="949.8" y="468.5">6</text><text x="1034.4" y="468.5">7</text><text x="1076.7" y="468.5">8</text><text x="1110.6" y="468.5">9</text><text x="1144.4" y="468.5">8</text><text x="1178.3" y="468.5">9</text>
<text x="146.1" y="487">0</text><text x="180" y="487">1</text><text x="213.8" y="487">2</text><text x="247.7" y="487">3</text><text x="290" y="487">0</text><text x="315.3" y="487">4</text><text x="391.5" y="487">1</text><text x="416.9" y="487">5</text><text x="493" y="487">2</text><text x="518.4" y="487">6</text><text x="594.5" y="487">3</text><text x="619.9" y="487">7</text><text x="696" y="487">4</text><text x="721.4" y="487">8</text><text x="797.6" y="487">5</text><text x="822.9" y="487">9</text><text x="899.1" y="487">6</text><text x="1000.6" y="487">7</text><text x="1059.8" y="487">8</text><text x="1093.7" y="487">9</text><text x="1127.5" y="487">8</text><text x="1161.3" y="487">9</text>
<text x="163.1" y="505.5">0</text><text x="196.9" y="505.5">1</text><text x="230.7" y="505.5">2</text><text x="247.7" y="505.5">0</text><text x="264.6" y="505.5">0</text><text x="281.5" y="505.5">3</text><text x="323.8" y="505.5">1</text><text x="366.1" y="505.5">4</text><text x="442.2" y="505.5">2</text><text x="467.6" y="505.5">5</text><text x="543.8" y="505.5">3</text><text x="569.1" y="505.5">6</text><text x="645.3" y="505.5">4</text><text x="670.7" y="505.5">7</text><text x="746.8" y="505.5">5</text><text x="772.2" y="505.5">8</text><text x="848.3" y="505.5">6</text><text x="873.7" y="505.5">9</text><text x="949.8" y="505.5">7</text><text x="1034.4" y="505.5">8</text><text x="1076.7" y="505.5">9</text><text x="1144.4" y="505.5">9</text>
<text x="180" y="524">0</text><text x="213.8" y="524">1</text><text x="230.7" y="524">0</text><text x="247.7" y="524">0</text><text x="264.6" y="524">2</text><text x="281.5" y="524">1</text><text x="298.4" y="524">1</text><text x="315.3" y="524">3</text><text x="357.6" y="524">2</text><text x="416.9" y="524">4</text><text x="493" y="524">3</text><text x="518.4" y="524">5</text><text x="594.5" y="524">4</text><text x="619.9" y="524">6</text><text x="696" y="524">5</text><text x="721.4" y="524">7</text><text x="797.6" y="524">6</text><text x="822.9" y="524">8</text><text x="899.1" y="524">7</text><text x="924.5" y="524">9</text><text x="1000.6" y="524">8</text><text x="1059.8" y="524">9</text><text x="1093.7" y="524">9</text>
<text x="196.9" y="542.5">0</text><text x="213.8" y="542.5">0</text><text x="230.7" y="542.5">0</text><text x="247.7" y="542.5">1</text><text x="264.6" y="542.5">1</text><text x="281.5" y="542.5">1</text><text x="298.4" y="542.5">2</text><text x="315.3" y="542.5">2</text><text x="332.3" y="542.5">2</text><text x="349.2" y="542.5">3</text><text x="391.5" y="542.5">3</text><text x="467.6" y="542.5">4</text><text x="543.8" y="542.5">4</text><text x="569.1" y="542.5">5</text><text x="645.3" y="542.5">5</text><text x="670.7" y="542.5">6</text><text x="746.8" y="542.5">6</text><text x="772.2" y="542.5">7</text><text x="848.3" y="542.5">7</text><text x="873.7" y="542.5">8</text><text x="949.8" y="542.5">8</text><text x="975.2" y="542.5">9</text><text x="1034.4" y="542.5">9</text>
</g>
<g id="dp-legend" class="lg3">
<text class="l3" x="28" y="562">Time</text>
<text class="l3" x="74" y="560" fill="#444">→</text>
<rect class="o" x="121" y="567" width="17" height="18"/><text class="l3" x="157" y="582">Forward</text>
<rect class="g" x="222" y="567" width="35" height="18"/><text class="l3" x="270" y="582">Backward</text>
<rect class="g" x="340" y="567" width="18" height="18"/><text class="l3" x="372" y="582">Backward for input</text>
<rect class="b" x="494" y="567" width="16" height="18"/><text class="l3" x="517" y="582">Backward for weights</text>
<rect class="o" x="645" y="567" width="17" height="18"/><rect class="g" x="662" y="567" width="35" height="18"/><text class="l3" x="706" y="582">Overlapped forward &amp; Backward</text>
</g>
</g>

<!-- ===== Table ===== -->
<g id="sec-table">
<text class="tt" x="30" y="618" textLength="678" lengthAdjust="spacingAndGlyphs">Pipeline Bubbles and Memory Usage Comparison</text>
<rect x="26" y="738" width="722" height="56" fill="#e8eaee"/>
<g id="table-lines" class="ln">
<line x1="26" y1="625" x2="748" y2="625"/>
<line x1="26" y1="681" x2="748" y2="681"/>
<line x1="26" y1="738" x2="748" y2="738"/>
<line x1="26" y1="794" x2="748" y2="794"/>
<line x1="26" y1="625" x2="26" y2="843"/>
<line x1="165" y1="625" x2="165" y2="843"/>
<line x1="438" y1="625" x2="438" y2="843"/>
<line x1="594" y1="625" x2="594" y2="843"/>
<line x1="748" y1="625" x2="748" y2="843"/>
</g>
<g id="table-head" class="tb th">
<text x="95.5" y="662">Method</text><text x="301.5" y="662">Bubble</text><text x="516" y="662">Parameter</text><text x="671" y="662">Activation</text>
</g>
<g id="table-body" class="tb">
<text x="47" y="720">1F1B</text>
<text x="185" y="720">(PP-1)(<tspan class="mi">F</tspan><tspan class="ms">+</tspan><tspan class="mi">W</tspan>)</text>
<text x="460" y="720">1×</text><text x="616" y="720">PP</text>
<text x="47" y="776">ZB1P</text>
<text x="185" y="776">(PP-1)(<tspan class="mi">F</tspan><tspan class="ms">+</tspan><tspan class="mi">B</tspan>-2<tspan class="mi">W</tspan>)</text>
<text x="460" y="776">1×</text><text x="616" y="776">PP</text>
<text x="47" y="831">DualPipe</text>
<text x="185" y="831">(PP/2-1)(<tspan class="mi">F</tspan><tspan class="ms">&amp;</tspan><tspan class="mi">B</tspan><tspan class="ms">+</tspan><tspan class="mi">B</tspan>-3<tspan class="mi">W</tspan>)</text>
<text x="460" y="831">2×</text><text x="616" y="831">PP+1</text>
</g>
</g>
</svg>
